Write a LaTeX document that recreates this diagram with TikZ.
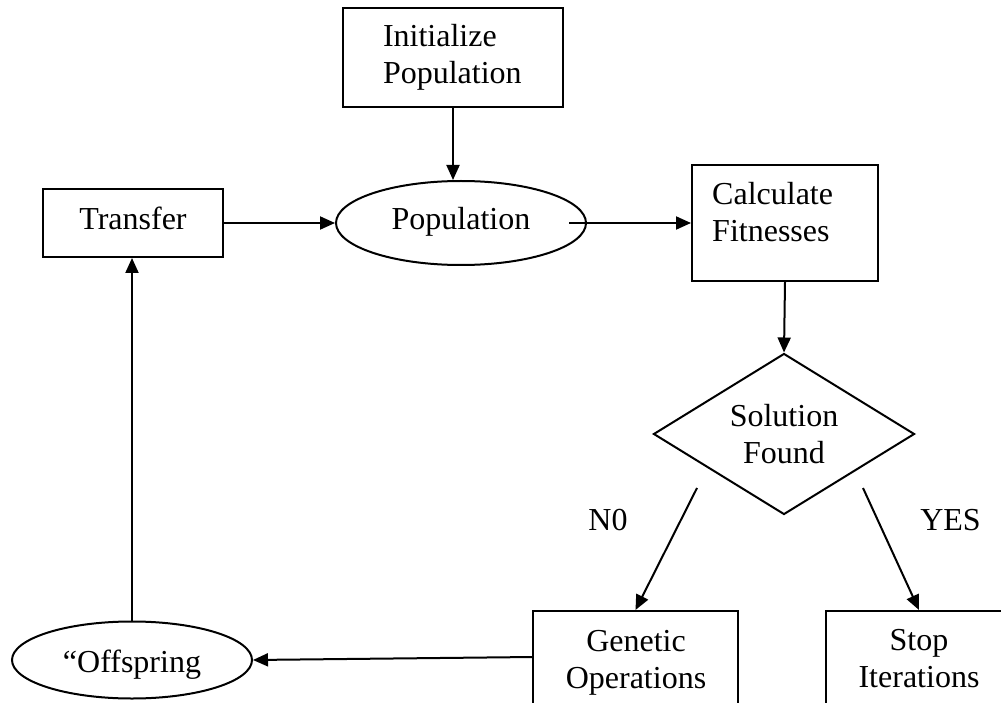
\documentclass[tikz,border=0pt]{standalone}
\usepackage{fontspec}
\setmainfont{Liberation Serif}
\usetikzlibrary{shapes.geometric,arrows.meta}
\begin{document}
\begin{tikzpicture}[x=1pt,y=-1pt,
  every node/.style={font=\fontsize{32}{37}\selectfont, inner sep=0pt},
  shapebox/.style={draw, line width=2pt, rectangle},
  ovalbox/.style={draw, line width=2pt, ellipse},
  decision/.style={draw, line width=2pt, diamond, aspect=1.62},
  txt/.style={align=center},
  arr/.style={line width=2pt, -{Triangle[length=15pt,width=13pt]}}
]
\useasboundingbox (0,0) rectangle (1001,703);

% boxes
\node[shapebox, minimum width=220pt, minimum height=99pt, text width=140pt, inner xsep=40pt, align=left] (init) at (453,57.5) {Initialize\\Population};
\node[shapebox, minimum width=180pt, minimum height=68pt, text height=22pt, text depth=8pt] (transfer) at (133,223) {Transfer};
\node[ovalbox, minimum width=250pt, minimum height=84pt, text height=22pt, text depth=8pt] (pop) at (461,223) {Population};
\node[shapebox, minimum width=186pt, minimum height=116pt] (calc) at (785,223) {};
\node[txt, align=left, anchor=west] (calctxt) at (712,212) {Calculate\\Fitnesses};
\node[decision, minimum width=261pt, minimum height=161pt, align=center] (dec) at (784,434) {Solution\\Found};
\node[shapebox, minimum width=205pt, minimum height=159pt] (gen) at (635.5,690.5) {};
\node[txt] (gentxt) at (636,662.5) {Genetic\\Operations};
\node[shapebox, minimum width=186pt, minimum height=159pt] (stop) at (919,690.5) {};
\node[txt] (stoptxt) at (919,659) {Stop\\Iterations};
\node[ovalbox, minimum width=240pt, minimum height=77pt, text height=26pt, text depth=2pt] (off) at (132,660) {``Offspring};

% labels
\node[anchor=base] (nolab) at (608,530) {N0};
\node[anchor=base] (yeslab) at (950.5,530) {YES};

% helper coordinates
\coordinate (nostart) at (697,488);
\coordinate (yesstart) at (863,488);
\coordinate (genout) at (533,657);

% connectors
\draw[arr] (init.south) -- (init.south |- pop.north);
\draw[arr] (transfer.east) -- (pop.west);
\draw[arr] ([xshift=-18pt]pop.east) -- (calc.west);
\draw[arr] (calc.south) -- (dec.north);
\draw[arr] (nostart) -- (gen.north);
\draw[arr] (yesstart) -- (stop.north);
\draw[arr] (genout) -- (off.east);
\draw[arr] (off.north) -- (off.north |- transfer.south);
\end{tikzpicture}
\end{document}
